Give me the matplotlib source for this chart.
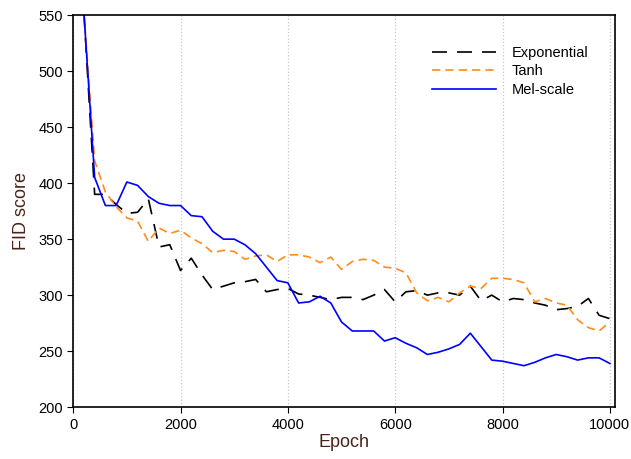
import numpy as np
import matplotlib.pyplot as plt

plt.rcParams['font.family'] = ['Liberation Sans', 'DejaVu Sans']

epochs = np.arange(200, 10001, 200)

exponential = [552, 390, 390, 381, 373, 374, 386, 343, 345, 322,
               333, 318, 305, 308, 311, 312, 314, 303, 305, 306,
               301, 300, 298, 296, 298, 298, 296, 300, 305, 294,
               303, 304, 300, 302, 302, 300, 308, 295, 300, 294,
               297, 296, 293, 291, 287, 288, 290, 297, 282, 279]

tanh = [552, 420, 392, 379, 369, 366, 348, 360, 355, 358,
        351, 346, 338, 340, 339, 332, 335, 336, 330, 336,
        336, 334, 329, 334, 323, 330, 332, 331, 325, 324,
        320, 302, 295, 298, 294, 302, 308, 306, 315, 315,
        314, 311, 294, 297, 293, 291, 278, 271, 268, 276]

mel_scale = [552, 405, 380, 380, 401, 398, 388, 382, 380, 380,
             371, 370, 357, 350, 350, 345, 337, 325, 313, 311,
             293, 294, 299, 293, 276, 268, 268, 268, 259, 262,
             257, 253, 247, 249, 252, 256, 266, 254, 242, 241,
             239, 237, 240, 244, 247, 245, 242, 244, 244, 239]

fig = plt.figure(figsize=(6.31, 4.59), dpi=100)
ax = fig.add_axes([0.116, 0.113, 0.859, 0.854])

ax.plot(epochs, exponential, color='black', lw=1.2, dashes=(9, 6), label='Exponential')
ax.plot(epochs, tanh, color='#ff8c1a', lw=1.2, dashes=(5, 3), label='Tanh')
ax.plot(epochs, mel_scale, color='#0000ff', lw=1.2, label='Mel-scale')

ax.set_xlim(0, 10100)
ax.set_ylim(200, 550)
ax.set_xticks([0, 2000, 4000, 6000, 8000, 10000])
ax.set_yticks(np.arange(200, 551, 50))
ax.xaxis.grid(True, linestyle=':', color='#c8c8c8', lw=0.9)

ax.tick_params(axis='both', direction='out', labelsize=10.5, length=4,
               top=False, right=False)
for s in ax.spines.values():
    s.set_linewidth(1.2)

lab_col = '#4a2418'
ax.set_xlabel('Epoch', fontsize=13, color=lab_col, labelpad=2)
ax.set_ylabel('FID score', fontsize=13, color=lab_col, labelpad=6)

ax.legend(loc='upper right', bbox_to_anchor=(0.975, 0.955), frameon=False,
          fontsize=10.5, handlelength=4.4, handletextpad=1.1, labelspacing=0.3)

fig.savefig('out.png', dpi=100)
